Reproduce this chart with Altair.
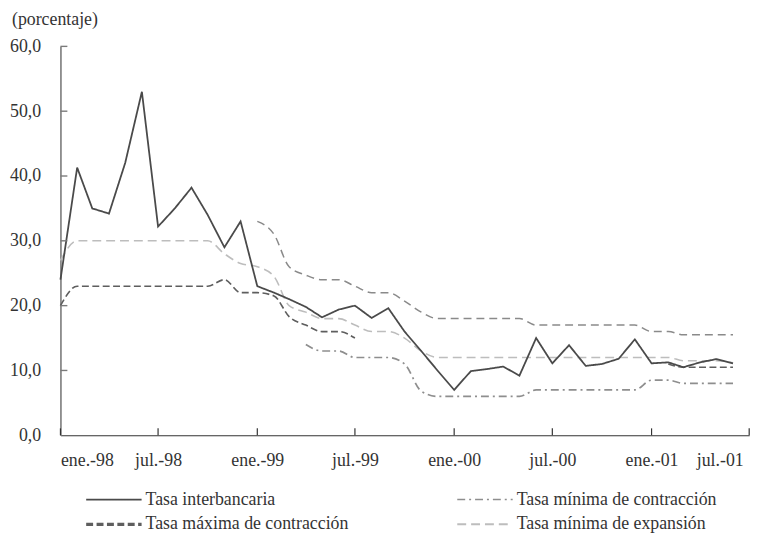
import altair as alt
import pandas as pd

# ---- data (monthly, ene-98 .. jun-01) ----
meses = [f"{y}-{m:02d}-01T00:00:00" for y in (1998, 1999, 2000, 2001) for m in range(1, 13)][:42]

interbancaria = [24, 41.3, 35, 34.2, 42, 53, 32.2, 35, 38.2, 34, 29, 33,
                 23, 22, 21, 19.8, 18.2, 19.4, 20, 18.1, 19.6, 16, 13, 10,
                 7, 9.9, 10.2, 10.6, 9.2, 15, 11.1, 13.9, 10.7, 11, 11.8, 14.8,
                 11.1, 11.25, 10.5, 11.25, 11.75, 11.1]
max_contraccion = [20, 23, 23, 23, 23, 23, 23, 23, 23, 23, 24, 22,
                   22, 21.5, 18.3, 17, 16, 16, 15, None, None, None, None, None,
                   None, None, None, None, None, None, None, None, None, None, None, None,
                   None, 11, 10.5, 10.5, 10.5, 10.5]
min_contraccion = [None] * 12 + \
                  [None, None, None, 14, 13, 13, 12, 12, 12, 11, 6.8, 6,
                   6, 6, 6, 6, 6, 7, 7, 7, 7, 7, 7, 7,
                   8.5, 8.5, 8, 8, 8, 8]
min_expansion = [27, 30, 30, 30, 30, 30, 30, 30, 30, 30, 28, 26.5,
                 26, 24.5, 20, 19, 18, 18, 17, 16, 16, 15, 13, 12,
                 12, 12, 12, 12, 12, 12, 12, 12, 12, 12, 12, 12,
                 12, 12, 11.5, 11.5, 11.5, 11.2]
max_expansion = [None] * 12 + \
                [33, 31, 26, 24.7, 24, 24, 23, 22, 22, 20.7, 19, 18,
                 18, 18, 18, 18, 18, 17, 17, 17, 17, 17, 17, 17,
                 16, 16, 15.5, 15.5, 15.5, 15.5]

series = ["Tasa interbancaria", "Tasa mínima de contracción",
          "Tasa máxima de contracción", "Tasa mínima de expansión",
          "Tasa máxima de expansión"]
valores = [interbancaria, min_contraccion, max_contraccion, min_expansion, max_expansion]

ticks_x = [(1998, 1), (1998, 7), (1999, 1), (1999, 7), (2000, 1), (2000, 7), (2001, 1), (2001, 7)]
ticks_y = [10, 20, 30, 40, 50, 60]

# ---- long table ----
rows = []
for s, vals in zip(series, valores):
    tramo = 0
    prev = None
    for f, v in zip(meses, vals):
        if v is None:
            if prev is not None:
                tramo += 1
            prev = None
            continue
        rows.append({"fecha": f, "valor": v, "serie": s, "tramo": f"{s}-{tramo}"})
        prev = v
df = pd.DataFrame(rows)

colores = ["#4a4a4a", "#8e8e8e", "#5e5e5e", "#bdbdbd", "#8a8a8a"]
dashes = [[1, 0], [8, 4, 2, 4], [7, 3.5], [9, 5], [8, 5]]
anchos = [1.8, 1.5, 3.2, 2.0, 2.0]

FONT = "Liberation Serif"
FS = 18
W, H = 696, 393

x_enc = alt.X("fecha:T",
              scale=alt.Scale(domain=[alt.DateTime(year=1998, month=1, date=1),
                                      alt.DateTime(year=2001, month=7, date=1)]),
              axis=alt.Axis(values=[alt.DateTime(year=y, month=m, date=1) for y, m in ticks_x],
                            labelExpr="['ene.','feb.','mar.','abr.','may.','jun.','jul.','ago.','sep.','oct.','nov.','dic.'][month(datum.value)] + '-' + timeFormat(datum.value, '%y')",
                            labelOffset={"condition": {"test": "year(datum.value) == 2001 && month(datum.value) == 6",
                                                       "value": -6}, "value": 0},
                            tickSize=0, labelPadding=17, domainColor="#333", domainWidth=1.2,
                            grid=False, title=None))
y_enc = alt.Y("valor:Q",
              scale=alt.Scale(domain=[0, 60]),
              axis=alt.Axis(values=[0] + ticks_y, labelExpr="replace(format(datum.value, '.1f'), '.', ',')",
                            tickSize=0, labelPadding=20, domainColor="#7a7a7a", domainWidth=1.6,
                            grid=False, title=None))

enc_comun = dict(
    x=x_enc, y=y_enc,
    color=alt.Color("serie:N", scale=alt.Scale(domain=series, range=colores), legend=None),
    strokeDash=alt.StrokeDash("serie:N", scale=alt.Scale(domain=series, range=dashes), legend=None),
    strokeWidth=alt.StrokeWidth("serie:N", scale=alt.Scale(domain=series, range=anchos), legend=None),
    detail="tramo:N",
)

base = alt.Chart(df)
linea_inter = base.transform_filter(alt.datum.serie == "Tasa interbancaria").mark_line(
    interpolate="linear").encode(**enc_comun)
lineas_tasas = base.transform_filter(alt.datum.serie != "Tasa interbancaria").mark_line(
    interpolate="monotone").encode(**enc_comun)

df_tx = pd.DataFrame({"fecha": [f"{y}-{m:02d}-01T00:00:00" for y, m in ticks_x]})
df_ty = pd.DataFrame({"valor": ticks_y})
marcas_x = alt.Chart(df_tx).mark_rule(color="#333", strokeWidth=1.2).encode(
    x=alt.X("fecha:T"), y=alt.value(H), y2=alt.value(H - 7))
marcas_y = alt.Chart(df_ty).mark_rule(color="#7a7a7a", strokeWidth=1.4).encode(
    y=alt.Y("valor:Q"), x=alt.value(0), x2=alt.value(7))

# ---- manual legend (2 columns x 2 rows) ----
pos_leyenda = [(26, 458), (401, 458), (26, 483), (401, 483)]
capas_leyenda = []
for i, (xl, yl) in enumerate(pos_leyenda):
    d = pd.DataFrame({"serie": [series[i]]})
    capas_leyenda.append(
        alt.Chart(d).mark_rule(color=colores[i], strokeDash=dashes[i], strokeWidth=anchos[i]).encode(
            x=alt.value(xl), x2=alt.value(xl + 56), y=alt.value(yl)))
    capas_leyenda.append(
        alt.Chart(d).mark_text(align="left", baseline="middle", font=FONT, fontSize=FS,
                               color="#333").encode(
            x=alt.value(xl + 60), y=alt.value(yl), text="serie:N"))

chart = alt.layer(lineas_tasas, linea_inter, marcas_x, marcas_y, *capas_leyenda).properties(
    width=W, height=H,
    autosize=alt.AutoSizeParams(type="none"),
    padding={"left": 53, "top": 36, "right": 18, "bottom": 98},
    title=alt.TitleParams("(porcentaje)", anchor="start", frame="group", dx=-49, offset=9,
                          font=FONT, fontSize=FS, fontWeight="normal", color="#333"),
).configure_view(stroke=None).configure_axis(
    labelFont=FONT, labelFontSize=FS, labelColor="#333"
)

chart.save("out.html", embed_options={"renderer": "svg", "actions": False})
